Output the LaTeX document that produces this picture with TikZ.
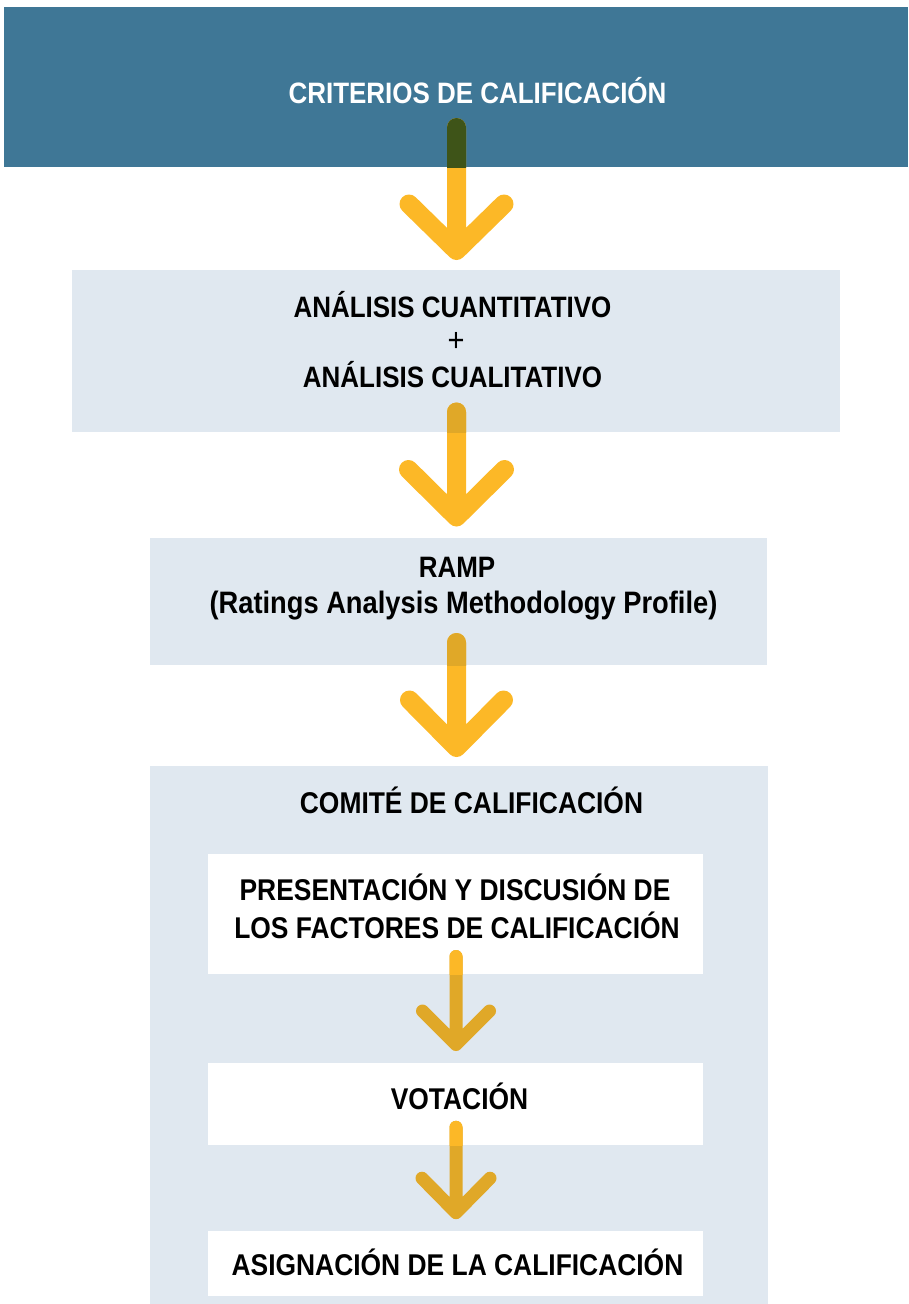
\documentclass[tikz,border=0pt]{standalone}
\usepackage{fontspec}
\setmainfont{Liberation Sans}[FakeStretch=0.88]
\usetikzlibrary{calc}
\definecolor{topblue}{RGB}{63,119,150}
\definecolor{lightbg}{RGB}{224,232,240}
\definecolor{arrowyellow}{RGB}{252,184,39}
\definecolor{arrowonblue}{RGB}{62,84,24}
\definecolor{arrowonlight}{RGB}{224,168,40}
\newcommand\flowarrow[5]{%
  \draw[#5] (#1) -- (#2) ($(#2)+(-#3,-#4)$) -- (#2) -- ($(#2)+(#3,-#4)$);}
\tikzset{
  box/.style={rectangle, inner sep=0pt, outer sep=0pt, anchor=north west, draw=none},
  bluebox/.style={box, fill=topblue},
  greybox/.style={box, fill=lightbg},
  whitebox/.style={box, fill=white},
  bigarrow/.style={line width=19pt, line cap=round, line join=round},
  smallarrow/.style={line width=13pt, line cap=round, line join=round},
  headtext/.style={inner sep=0pt, anchor=base, text=white, font=\fontsize{29.5}{36}\selectfont\bfseries},
  bodytext/.style={inner sep=0pt, anchor=base, text=black, font=\fontsize{30}{36}\selectfont\bfseries},
  bodytextsm/.style={inner sep=0pt, anchor=base, text=black, font=\fontsize{29.5}{34}\selectfont\bfseries},
}
\begin{document}
\begin{tikzpicture}[x=1pt,y=-1pt]
\useasboundingbox (0,0) rectangle (908,1304);
% boxes
\node[bluebox, minimum width=904pt, minimum height=160pt] (crit) at (4,7) {};
\node[greybox, minimum width=768pt, minimum height=162pt] (anal) at (72,270) {};
\node[greybox, minimum width=617pt, minimum height=127pt] (ramp) at (150,538) {};
\node[greybox, minimum width=618pt, minimum height=538pt] (comite) at (150,766) {};
\node[whitebox, minimum width=495pt, minimum height=120pt] (pres) at (208,854) {};
\node[whitebox, minimum width=495pt, minimum height=82pt] (vot) at (208,1063) {};
\node[whitebox, minimum width=495pt, minimum height=65pt] (asig) at (208,1231) {};
% arrow anchor points
\coordinate (a1s) at (456.5,127.5); \coordinate (a1t) at (456.5,250.5);
\coordinate (a2s) at (456.5,412);   \coordinate (a2t) at (456.5,517);
\coordinate (a3s) at (456.5,642.5); \coordinate (a3t) at (456.5,747.5);
\coordinate (a4s) at (456,956.5);   \coordinate (a4t) at (456,1044.5);
\coordinate (a5s) at (456,1127.3);  \coordinate (a5t) at (456,1212.7);
% arrow 1
\flowarrow{a1s}{a1t}{47.5}{46.5}{bigarrow, draw=arrowyellow}
\begin{scope}
  \clip (crit.south west) rectangle (crit.north east);
  \flowarrow{a1s}{a1t}{47.5}{46.5}{bigarrow, draw=arrowonblue}
\end{scope}
% arrow 2
\flowarrow{a2s}{a2t}{48}{47.5}{bigarrow, draw=arrowyellow}
\begin{scope}
  \clip (anal.south west) rectangle (anal.north east);
  \flowarrow{a2s}{a2t}{48}{47.5}{bigarrow, draw=arrowonlight}
\end{scope}
% arrow 3
\flowarrow{a3s}{a3t}{47}{47.5}{bigarrow, draw=arrowyellow}
\begin{scope}
  \clip (ramp.south west) rectangle (ramp.north east);
  \flowarrow{a3s}{a3t}{47}{47.5}{bigarrow, draw=arrowonlight}
\end{scope}
% arrow 4
\flowarrow{a4s}{a4t}{33.5}{33.5}{smallarrow, draw=arrowonlight}
\begin{scope}
  \clip (pres.south west) rectangle (pres.north east);
  \flowarrow{a4s}{a4t}{33.5}{33.5}{smallarrow, draw=arrowyellow}
\end{scope}
% arrow 5
\flowarrow{a5s}{a5t}{34}{34.5}{smallarrow, draw=arrowonlight}
\begin{scope}
  \clip (vot.south west) rectangle (vot.north east);
  \flowarrow{a5s}{a5t}{34}{34.5}{smallarrow, draw=arrowyellow}
\end{scope}
% texts
\node[headtext] (t0) at (477.5,103) {CRITERIOS DE CALIFICACIÓN};
\node[bodytextsm] (t2a) at (452.5,317) {ANÁLISIS CUANTITATIVO};
\node[inner sep=0pt, anchor=center, font=\fontsize{33}{36}\selectfont] (t2b) at (456,342) {+};
\node[bodytextsm] (t2c) at (452.5,387) {ANÁLISIS CUALITATIVO};
\node[bodytextsm] (t3a) at (457,577) {RAMP};
\node[bodytext, font=\fontsize{31}{36}\selectfont\bfseries] (t3b) at (463.5,613) {(Ratings Analysis Methodology Profile)};
\node[bodytext] (t4) at (471.5,813) {COMITÉ DE CALIFICACIÓN};
\node[bodytext] (t5a) at (455,900) {PRESENTACIÓN Y DISCUSIÓN DE};
\node[bodytext] (t5b) at (457,938) {LOS FACTORES DE CALIFICACIÓN};
\node[bodytext] (t6) at (459.5,1109) {VOTACIÓN};
\node[bodytext] (t7) at (457.5,1275) {ASIGNACIÓN DE LA CALIFICACIÓN};
\end{tikzpicture}
\end{document}
